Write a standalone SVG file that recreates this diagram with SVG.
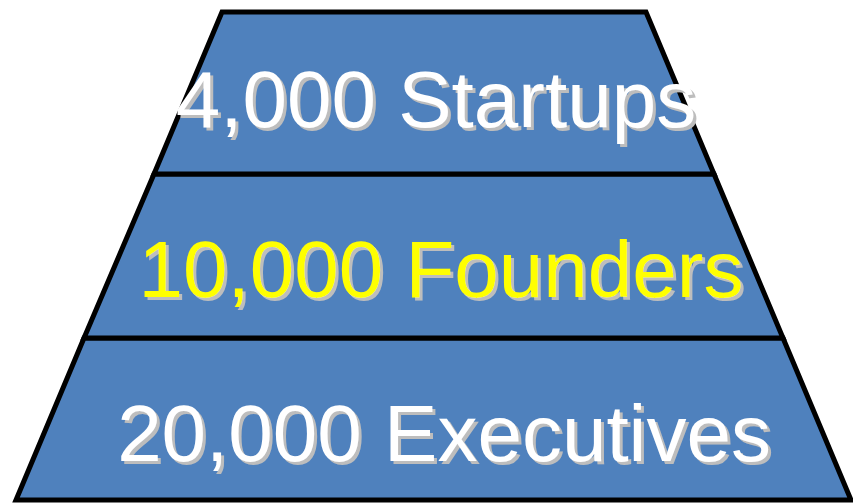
<svg xmlns="http://www.w3.org/2000/svg" width="853" height="504" viewBox="0 0 853 504">
<defs>
<filter id="shadow" filterUnits="userSpaceOnUse" x="0" y="0" width="853" height="504">
<feOffset in="SourceAlpha" dx="3" dy="3" result="off"/>
<feFlood flood-color="#BDBDBD"/>
<feComposite in2="off" operator="in" result="sh"/>
<feMerge><feMergeNode in="sh"/><feMergeNode in="SourceGraphic"/></feMerge>
</filter>
</defs>
<style>
.band{fill:#4F81BD;stroke:#000;stroke-width:5;stroke-linejoin:miter}
.t{font-family:"Liberation Sans",Arial,sans-serif;font-size:80px;text-anchor:middle;filter:url(#shadow)}
.w{fill:#FFFFFF}
.y{fill:#FFFF00}
</style>
<rect width="853" height="504" fill="#FFFFFF"/>
<g id="band-bottom">
<polygon class="band" points="84,338 783,338 851,500 16,500"/>
<text class="t w" x="444" y="461">20,000 Executives</text>
</g>
<g id="band-middle">
<polygon class="band" points="154,174 714,174 783,338 84,338"/>
<text class="t y" x="441" y="297">10,000 Founders</text>
</g>
<g id="band-top">
<polygon class="band" points="222,12 646,12 714,174 154,174"/>
<text class="t w" x="436" y="127">4,000 Startups</text>
</g>
<g id="connectors"></g>
</svg>
